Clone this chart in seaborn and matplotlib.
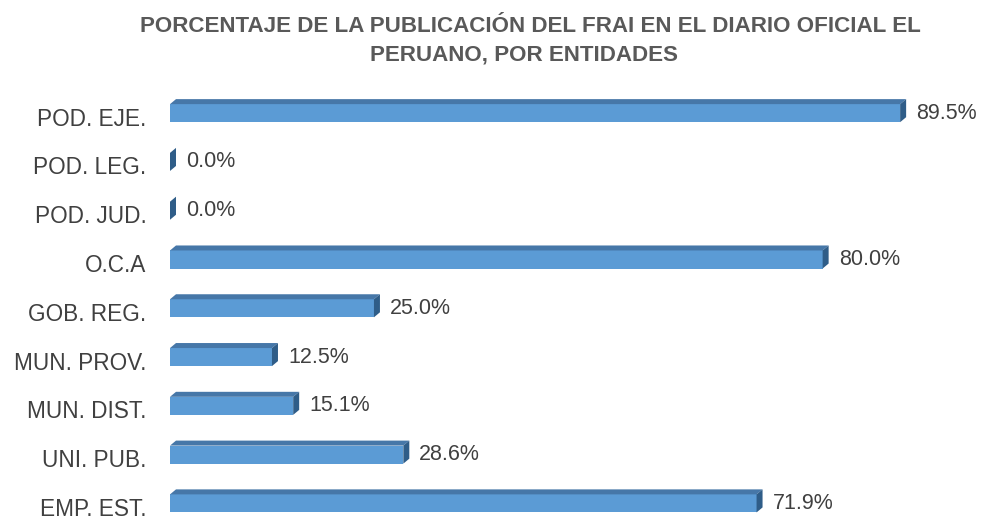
import numpy as np
import pandas as pd
import seaborn as sns
import matplotlib
matplotlib.use("Agg")
import matplotlib.pyplot as plt
import matplotlib.transforms as mtransforms
from matplotlib.patches import Polygon

# Share of FRAI publications in El Peruano, by type of entity
entidades = ["POD. EJE.", "POD. LEG.", "POD. JUD.", "O.C.A", "GOB. REG.",
             "MUN. PROV.", "MUN. DIST.", "UNI. PUB.", "EMP. EST."]
porcentajes = [89.5, 0.0, 0.0, 80.0, 25.0, 12.5, 15.1, 28.6, 71.9]

titulo_1 = "PORCENTAJE DE LA PUBLICACIÓN DEL FRAI EN EL DIARIO OFICIAL EL"
titulo_2 = "PERUANO, POR ENTIDADES"

FRONT = "#5B9BD5"
TOP = "#4677A8"
SIDE = "#2F5D88"
TEXT = "#404040"

sns.set_theme(style="white")
plt.rcParams["font.family"] = ["Liberation Sans", "DejaVu Sans"]

W, H, DPI = 981, 521, 100
fig = plt.figure(figsize=(W / DPI, H / DPI), dpi=DPI)
ax = fig.add_axes([170 / W, 0.001, (945 - 170) / W, 0.838])

df = pd.DataFrame({"entidad": entidades, "pct": porcentajes})
sns.barplot(data=df, x="pct", y="entidad", orient="h", color=FRONT,
            saturation=1, width=0.37, ax=ax, linewidth=0)

ax.set_xlim(0, 95)
ax.set_ylim(8.35, -0.6)
ax.set_xlabel("")
ax.set_ylabel("")
ax.set_xticks([])
for s in ax.spines.values():
    s.set_visible(False)
ax.tick_params(axis="y", length=0, pad=17, labelsize=16.3, labelcolor=TEXT)
shift = mtransforms.ScaledTranslation(0, -3.5 / DPI, fig.dpi_scale_trans)
for lbl in ax.get_yticklabels():
    lbl.set_transform(lbl.get_transform() + shift)

# Two-line bold title, baselines placed in figure pixels
fig.text(530 / W, 1 - 32.3 / H, titulo_1, ha="center", va="baseline",
         fontsize=16.1, fontweight="bold", color="#595959")
fig.text(524 / W, 1 - 60.5 / H, titulo_2, ha="center", va="baseline",
         fontsize=16.1, fontweight="bold", color="#595959")

# 3D faces of each bar, computed in pixel space from the bar geometry
dx, dy = 6, 5
ident = mtransforms.IdentityTransform()
fig.canvas.draw()
for patch, v in zip(ax.patches, porcentajes):
    x0, y0 = patch.get_x(), patch.get_y()
    w, h = patch.get_width(), patch.get_height()
    (px0, pyb), (px1, pyt) = ax.transData.transform([(x0, y0 + h), (x0 + w, y0)])
    top = Polygon([(px0, pyt), (px1, pyt), (px1 + dx, pyt + dy), (px0 + dx, pyt + dy)],
                  closed=True, facecolor=TOP, edgecolor="none", transform=ident,
                  clip_on=False)
    side = Polygon([(px1, pyb), (px1, pyt), (px1 + dx, pyt + dy), (px1 + dx, pyb + dy)],
                   closed=True, facecolor=SIDE, edgecolor="none", transform=ident,
                   clip_on=False)
    ax.add_artist(top)
    ax.add_artist(side)
    ax.annotate(f"{v:.1f}%", xy=(x0 + w, y0 + h / 2), xytext=(16, 0),
                textcoords="offset pixels", ha="left", va="center",
                fontsize=15.5, color=TEXT)

fig.savefig("out.png", dpi=DPI)
